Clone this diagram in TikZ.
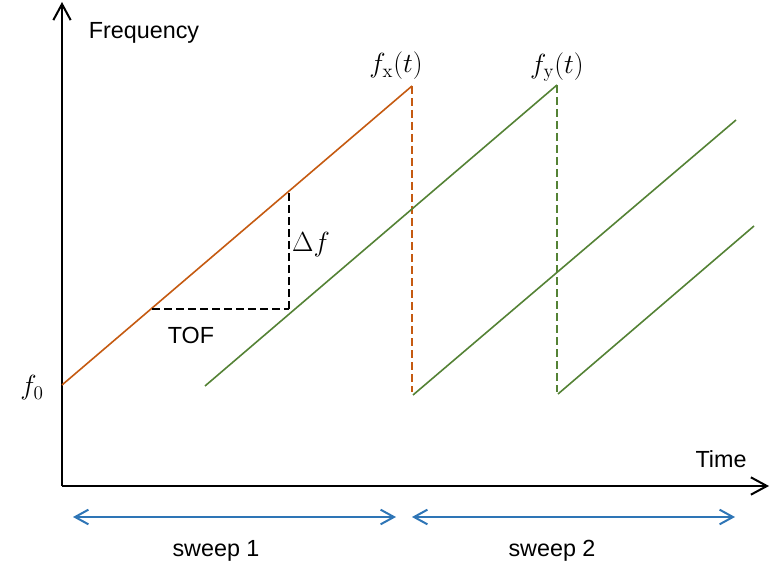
\documentclass[tikz,border=0pt]{standalone}
\usepackage[no-math]{fontspec}
\setmainfont{Liberation Sans}
\usepackage{amsmath}
\usetikzlibrary{arrows.meta,positioning}
\definecolor{sweeporange}{RGB}{197,90,17}
\definecolor{sweepgreen}{RGB}{84,130,53}
\definecolor{sweepblue}{RGB}{46,117,182}
\tikzset
{
    axisline/.style  = {draw=black, line width=1.5pt, -{Straight Barb[length=12pt, width=13pt]}},
    ramp/.style      = {draw=#1, line width=1.2pt},
    drop/.style      = {draw=#1, line width=1.2pt, dash pattern=on 6pt off 3pt},
    guide/.style     = {draw=black, line width=1.2pt, dash pattern=on 6pt off 3pt},
    span/.style      = {draw=sweepblue, line width=1.5pt, {Straight Barb[length=10pt, width=11pt]}-{Straight Barb[length=10pt, width=11pt]}},
    txt/.style       = {inner sep=0pt, font=\fontsize{17.5}{21}\selectfont},
    mathtxt/.style   = {inner sep=0pt, font=\fontsize{21}{25}\selectfont}
}

\begin{document}
\begin{tikzpicture}[x=0.75pt, y=-0.75pt]

	 \useasboundingbox (0, 0) rectangle (770, 570);

	 % axes
	 \coordinate (o)    at (62, 486);
	 \coordinate (ytop) at (62, 2);
	 \coordinate (xend) at (769, 486);

	 % sweep ramps
	 \coordinate (xa)  at (62, 385);
	 \coordinate (xb)  at (412, 86);
	 \coordinate (xc)  at (412, 392);
	 \coordinate (ya)  at (205, 386);
	 \coordinate (yb)  at (557, 85);
	 \coordinate (yc)  at (557, 392);
	 \coordinate (ra)  at (413, 395);
	 \coordinate (rb)  at (736, 120);
	 \coordinate (sa)  at (558, 394);
	 \coordinate (sb)  at (754, 226);

	 % delay triangle
	 \coordinate (ta)  at (152, 309);
	 \coordinate (tb)  at (289, 309);
	 \coordinate (tc)  at (289, 191);

	 % sweep spans
	 \coordinate (pa)  at (73, 517);
	 \coordinate (pb)  at (396, 517);
	 \coordinate (qa)  at (412, 517);
	 \coordinate (qb)  at (735, 517);

	 \node (freq)  [txt]     at (144, 33)  {Frequency};
	 \node (time)  [txt]     at (721, 459) {Time};
	 \node (tof)   [txt]     at (191, 335) {TOF};
	 \node (df)    [mathtxt] at (311, 245) {$\Delta f$};
	 \node (fo)    [mathtxt] at (32, 388)  {$f_{0}$};
	 \node (fx)    [mathtxt] at (396, 66)  {$f_{\mathrm{x}}(t)$};
	 \node (fy)    [mathtxt] at (557, 67)  {$f_{\mathrm{y}}(t)$};
	 \node (sw1)   [txt]     at (216, 551) {sweep 1};
	 \node (sw2)   [txt]     at (552, 551) {sweep 2};

	 \path
		  (o)     edge[axisline]           (ytop)
		  (o)     edge[axisline]           (xend)
		  (xa)    edge[ramp=sweeporange]   (xb)
		  (xb)    edge[drop=sweeporange]   (xc)
		  (ya)    edge[ramp=sweepgreen]    (yb)
		  (yb)    edge[drop=sweepgreen]    (yc)
		  (ra)    edge[ramp=sweepgreen]    (rb)
		  (sa)    edge[ramp=sweepgreen]    (sb)
		  (ta)    edge[guide]              (tb)
		  (tb)    edge[guide]              (tc)
		  (pa)    edge[span]               (pb)
		  (qa)    edge[span]               (qb);
\end{tikzpicture}
\end{document}
